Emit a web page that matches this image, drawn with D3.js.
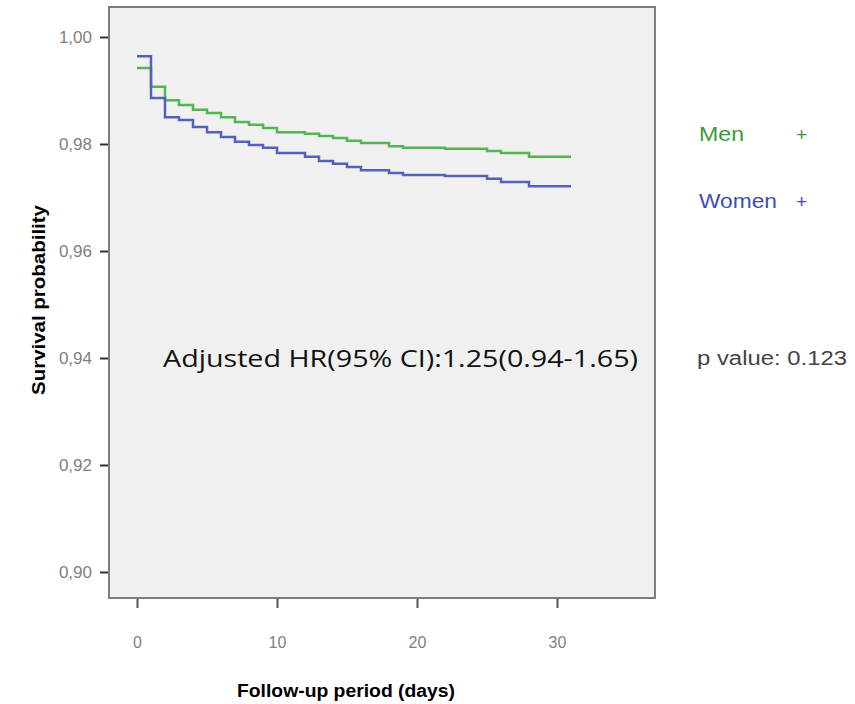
<!DOCTYPE html>
<html>
<head>
<meta charset="utf-8">
<script src="https://cdn.jsdelivr.net/npm/d3@7"></script>
<style>
    body { margin: 0; background: #fff; }
    svg { display: block; }
</style>
</head>
<body>
<svg id="chart"></svg>
<script>
// step times (days) where the curves change
let days = [0, 1, 2, 3, 4, 5, 6, 7, 8, 9, 10, 12, 13, 14, 15, 16, 18, 19, 22, 25, 26, 28, 31];
let menSurvival = [0.9942, 0.9907, 0.9882, 0.9873, 0.9864, 0.9858, 0.9850, 0.9841, 0.9836, 0.9830, 0.9822,
    0.9819, 0.9815, 0.9811, 0.9806, 0.9802, 0.9796, 0.9793, 0.9791, 0.9787, 0.9783, 0.9776, 0.9776];
let womenSurvival = [0.9964, 0.9886, 0.9850, 0.9845, 0.9832, 0.9822, 0.9813, 0.9804, 0.9798, 0.9793, 0.9783,
    0.9776, 0.9768, 0.9763, 0.9757, 0.9751, 0.9746, 0.9742, 0.9740, 0.9735, 0.9729, 0.9721, 0.9721];
let xTicks = [0, 10, 20, 30];
let yTicks = [0.90, 0.92, 0.94, 0.96, 0.98, 1.00];
let legendLabels = ['Men', 'Women'];
let seriesColors = ['#55b455', '#5561b9'];
let legendColors = ['#3a9a3a', '#3d4db3'];

let width = 855, height = 704;
let frame = {left: 109, top: 7, right: 655, bottom: 598};
let spssFont = '"Liberation Sans", Arial, sans-serif';

let svg = d3.select('#chart')
    .attr('width', width)
    .attr('height', height);

let xScale = d3.scaleLinear()
    .domain([0, 30])
    .range([137, 557]);

let yScale = d3.scaleLinear()
    .domain([0.90, 1.00])
    .range([572, 37]);

// plot background + frame
svg.append('rect')
    .attr('x', frame.left)
    .attr('y', frame.top)
    .attr('width', frame.right - frame.left)
    .attr('height', frame.bottom - frame.top)
    .attr('fill', '#f0f0f0')
    .attr('stroke', '#7d7d7d')
    .attr('stroke-width', 2);

// y axis
let yAxis = d3.axisLeft(yScale)
    .tickValues(yTicks)
    .tickSize(8)
    .tickPadding(8)
    .tickFormat(d => d.toFixed(2).replace('.', ','));

svg.append('g')
    .attr('class', 'y axis')
    .attr('transform', `translate(${frame.left - 1}, 0)`)
    .call(yAxis)
    .call(g => g.select('.domain').remove())
    .call(g => g.selectAll('line').attr('stroke', '#333').attr('stroke-width', 2))
    .call(g => g.selectAll('text')
        .attr('fill', '#808080')
        .style('font', `17px ${spssFont}`));

// x axis
let xAxis = d3.axisBottom(xScale)
    .tickValues(xTicks)
    .tickSize(9)
    .tickPadding(29);

svg.append('g')
    .attr('class', 'x axis')
    .attr('transform', `translate(0, ${frame.bottom + 1})`)
    .call(xAxis)
    .call(g => g.select('.domain').remove())
    .call(g => g.selectAll('line').attr('stroke', '#555').attr('stroke-width', 2))
    .call(g => g.selectAll('text')
        .attr('fill', '#808080')
        .style('font', `16px ${spssFont}`));

// axis titles
svg.append('text')
    .attr('x', 346)
    .attr('y', 697)
    .attr('text-anchor', 'middle')
    .attr('textLength', 218)
    .attr('lengthAdjust', 'spacingAndGlyphs')
    .style('font', `bold 18px ${spssFont}`)
    .text('Follow-up period (days)');

svg.append('text')
    .attr('transform', 'translate(45, 300) rotate(-90)')
    .attr('text-anchor', 'middle')
    .attr('textLength', 190)
    .attr('lengthAdjust', 'spacingAndGlyphs')
    .style('font', `bold 19px ${spssFont}`)
    .text('Survival probability');

// survival step curves
let line = d3.line()
    .x(d => xScale(d[0]))
    .y(d => yScale(d[1]))
    .curve(d3.curveStepAfter);

[menSurvival, womenSurvival].forEach((series, i) => {
    svg.append('path')
        .datum(days.map((day, j) => [day, series[j]]))
        .attr('fill', 'none')
        .attr('stroke', seriesColors[i])
        .attr('stroke-width', 2.5)
        .attr('d', line);
});

// legend
legendLabels.forEach((label, i) => {
    let ly = 141 + i * 67;
    svg.append('text')
        .attr('x', 699)
        .attr('y', ly)
        .attr('fill', legendColors[i])
        .attr('textLength', i === 0 ? 45 : 78)
        .attr('lengthAdjust', 'spacingAndGlyphs')
        .style('font', `20px ${spssFont}`)
        .text(label);
    svg.append('text')
        .attr('x', 796)
        .attr('y', ly)
        .attr('fill', legendColors[i])
        .style('font', `19px ${spssFont}`)
        .text('+');
});

// annotations
svg.append('text')
    .attr('x', 697)
    .attr('y', 365)
    .attr('fill', '#444')
    .attr('textLength', 150)
    .attr('lengthAdjust', 'spacingAndGlyphs')
    .style('font', `20px ${spssFont}`)
    .text('p value: 0.123');

svg.append('text')
    .attr('x', 163)
    .attr('y', 367)
    .attr('fill', '#111')
    .style('font', '24px "Open Sans", sans-serif')
    .attr('textLength', 475)
    .attr('lengthAdjust', 'spacingAndGlyphs')
    .text('Adjusted HR(95% CI):1.25(0.94-1.65)');
</script>
</body>
</html>
